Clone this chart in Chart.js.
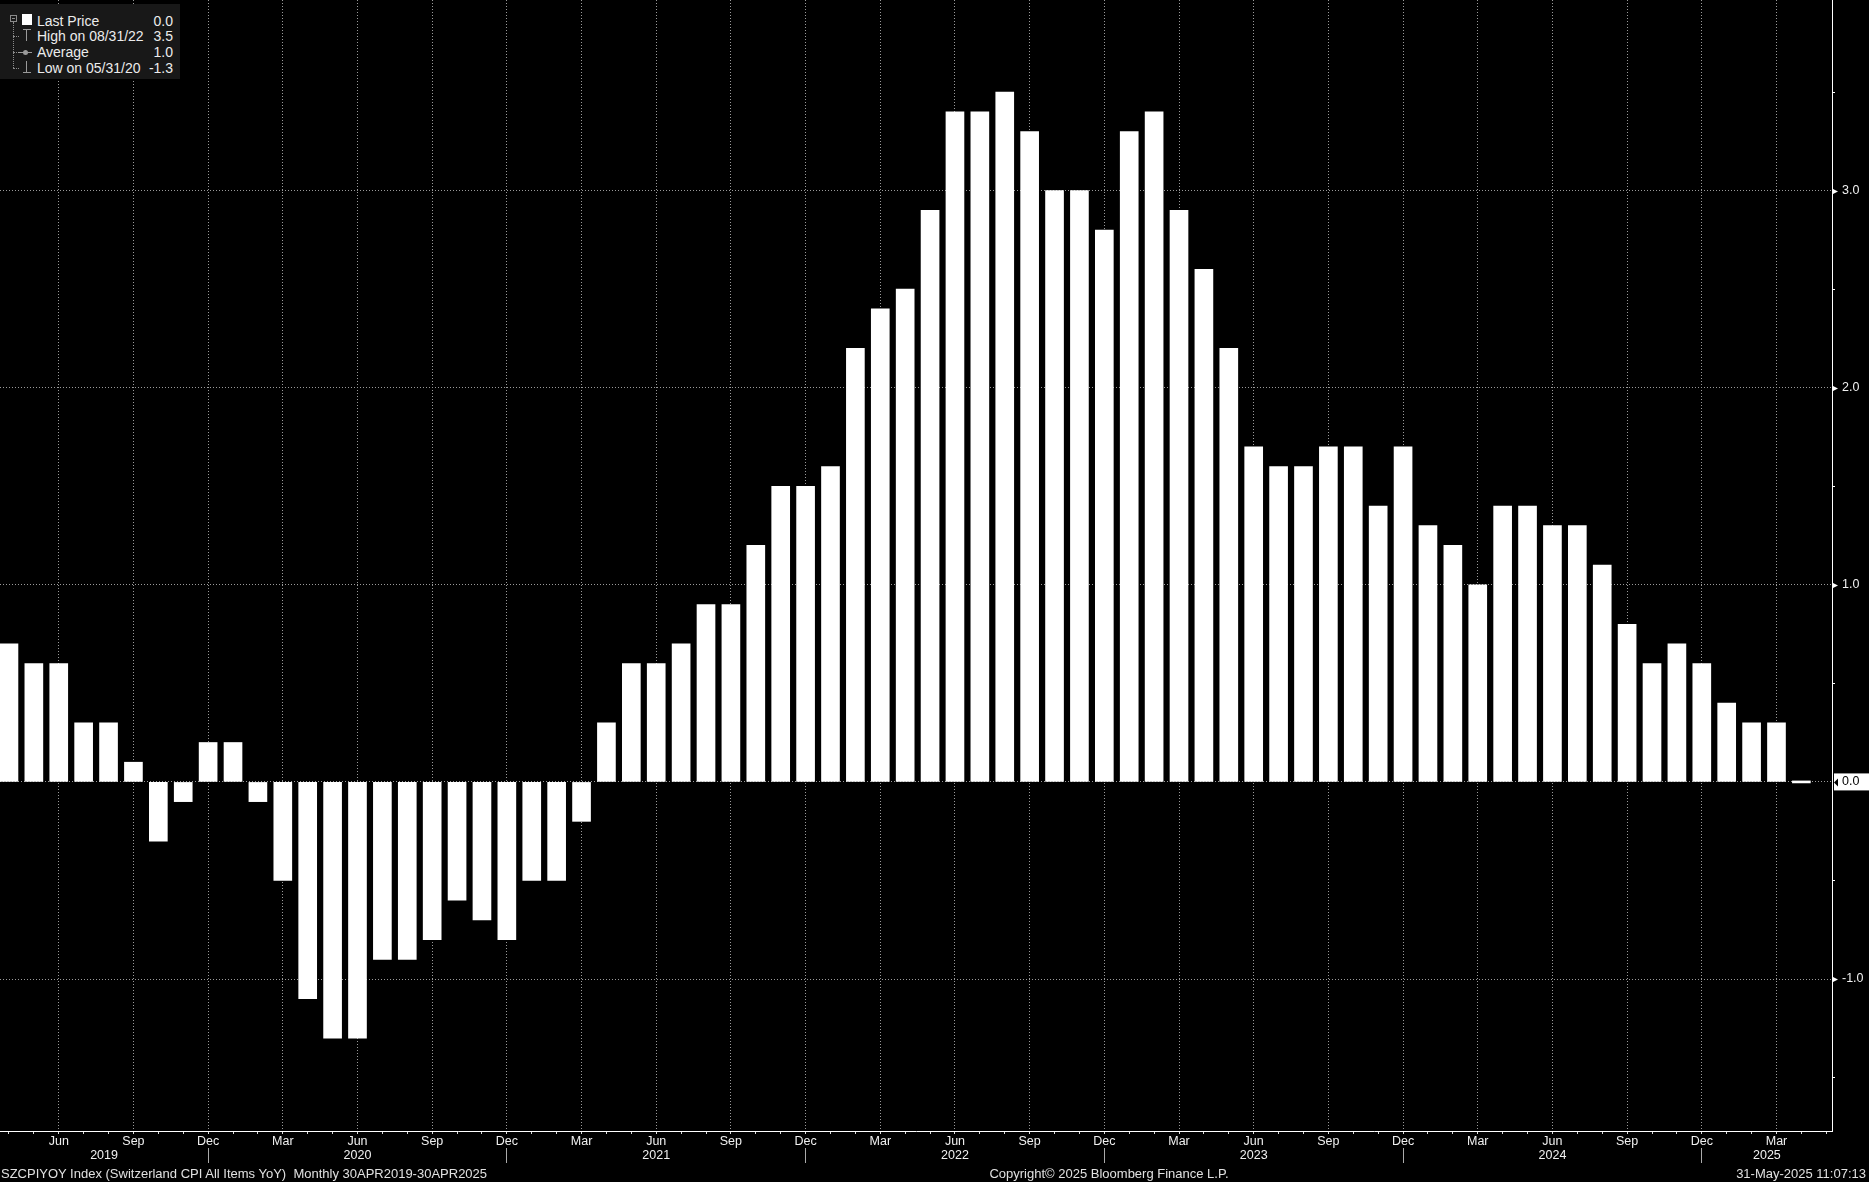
<!DOCTYPE html>
<html lang="en">
<head>
<meta charset="UTF-8">
<title>SZCPIYOY Index</title>
<style>
  * { box-sizing: border-box; margin: 0; padding: 0; }
  body {
    background: #000;
    width: 1869px;
    height: 1182px;
    overflow: hidden;
    font-family: 'Liberation Sans', Arial, sans-serif;
    color: #ececec;
  }
  .wrap { position: relative; width: 1869px; height: 1182px; }
  .chart-box { position: absolute; left: 0; top: 0; width: 1869px; height: 1182px; }
  #legend {
    position: absolute; left: 0; top: 4px;
    width: 180px; height: 75px;
    background: #181818;
    font-size: 14px; line-height: 16px;
  }
  #legend span { position: absolute; }
  .tree-box { left: 10px; top: 11px; width: 7px; height: 7px; border: 1px solid #8a8a8a; }
  .tree-box::after { content: ''; position: absolute; left: 1px; top: 2px; width: 3px; height: 1px; background: #8a8a8a; }
  .tree-line { left: 13px; top: 18px; height: 46px; border-left: 1px dotted #8a8a8a; }
  .stub { left: 13px; width: 6px; border-top: 1px dotted #8a8a8a; }
  .ic-last { left: 22px; top: 10px; width: 10px; height: 11px; background: #fff; }
  .grey { background: #9a9a9a; }
  .lg-name { left: 37px; white-space: pre; }
  .lg-val { right: 7px; text-align: right; }
  .footer { position: absolute; top: 1166px; font-size: 13px; line-height: 16px; white-space: pre; color: #e0e0e0; }
</style>
</head>
<body>
<div class="wrap">
  <div class="chart-box"><canvas id="cpiChart"></canvas></div>

  <div id="legend">
    <span class="tree-box"></span>
    <span class="tree-line"></span>
    <span class="stub" style="top:32px"></span>
    <span class="stub" style="top:48px"></span>
    <span class="stub" style="top:64px"></span>
    <span class="ic-last"></span>
    <span class="grey" style="left:23px;top:25px;width:8px;height:1px"></span>
    <span class="grey" style="left:26px;top:25px;width:1px;height:12px"></span>
    <span class="grey" style="left:18px;top:48px;width:14px;height:1px"></span>
    <span class="grey" style="left:23px;top:46px;width:5px;height:5px;border-radius:50%"></span>
    <span class="grey" style="left:26px;top:57px;width:1px;height:12px"></span>
    <span class="grey" style="left:23px;top:68px;width:8px;height:1px"></span>
    <span class="lg-name" style="top:9px">Last Price</span><span class="lg-val" id="vLast" style="top:9px"></span>
    <span class="lg-name" style="top:24px" id="nHigh"></span><span class="lg-val" id="vHigh" style="top:24px"></span>
    <span class="lg-name" style="top:40px">Average</span><span class="lg-val" id="vAvg" style="top:40px"></span>
    <span class="lg-name" style="top:56px" id="nLow"></span><span class="lg-val" id="vLow" style="top:56px"></span>
  </div>

  <div class="footer" style="left:1px">SZCPIYOY Index (Switzerland CPI All Items YoY)  Monthly 30APR2019-30APR2025</div>
  <div class="footer" style="left:1109px;transform:translateX(-50%)">Copyright© 2025 Bloomberg Finance L.P.</div>
  <div class="footer" style="right:3px">31-May-2025 11:07:13</div>
</div>

<script src="https://cdn.jsdelivr.net/npm/chart.js@4"></script>
<script>
  // monthly observations, month-end
  const months = [
    '2019-04','2019-05','2019-06','2019-07','2019-08','2019-09','2019-10','2019-11','2019-12',
    '2020-01','2020-02','2020-03','2020-04','2020-05','2020-06','2020-07','2020-08','2020-09','2020-10','2020-11','2020-12',
    '2021-01','2021-02','2021-03','2021-04','2021-05','2021-06','2021-07','2021-08','2021-09','2021-10','2021-11','2021-12',
    '2022-01','2022-02','2022-03','2022-04','2022-05','2022-06','2022-07','2022-08','2022-09','2022-10','2022-11','2022-12',
    '2023-01','2023-02','2023-03','2023-04','2023-05','2023-06','2023-07','2023-08','2023-09','2023-10','2023-11','2023-12',
    '2024-01','2024-02','2024-03','2024-04','2024-05','2024-06','2024-07','2024-08','2024-09','2024-10','2024-11','2024-12',
    '2025-01','2025-02','2025-03','2025-04'
  ];
  const cpiYoY = [
    0.7, 0.6, 0.6, 0.3, 0.3, 0.1, -0.3, -0.1, 0.2,
    0.2, -0.1, -0.5, -1.1, -1.3, -1.3, -0.9, -0.9, -0.8, -0.6, -0.7, -0.8,
    -0.5, -0.5, -0.2, 0.3, 0.6, 0.6, 0.7, 0.9, 0.9, 1.2, 1.5, 1.5,
    1.6, 2.2, 2.4, 2.5, 2.9, 3.4, 3.4, 3.5, 3.3, 3.0, 3.0, 2.8,
    3.3, 3.4, 2.9, 2.6, 2.2, 1.7, 1.6, 1.6, 1.7, 1.7, 1.4, 1.7,
    1.3, 1.2, 1.0, 1.4, 1.4, 1.3, 1.3, 1.1, 0.8, 0.6, 0.7, 0.6,
    0.4, 0.3, 0.3, 0.0
  ];
  const monthNames = ['Jan','Feb','Mar','Apr','May','Jun','Jul','Aug','Sep','Oct','Nov','Dec'];
  const quarterMonths = ['Mar','Jun','Sep','Dec'];
  const yearLabels = ['2019','2020','2021','2022','2023','2024','2025'];
  const yTickValues = [-1.5, -1.0, -0.5, 0.0, 0.5, 1.0, 1.5, 2.0, 2.5, 3.0, 3.5];

  const X_MIN = -0.36, X_MAX = 73.23;
  const Y_MIN = -1.771, Y_MAX = 3.967;
  const GRID = '#9a9a9a';
  const TEXT = '#f0f0f0';
  const FONT = "'Liberation Sans', Arial, sans-serif";

  const y0 = +months[0].slice(0, 4), m0 = +months[0].slice(5) - 1;
  const monthOf = i => monthNames[(m0 + i) % 12];
  // index of December of a given year (month-end), relative to first obs
  const decIdx = yr => (yr - y0) * 12 + (11 - m0);
  const yearCenters = yearLabels.map(yr => {
    const start = Math.max(decIdx(+yr - 1), X_MIN);
    const end = Math.min(decIdx(+yr), X_MAX);
    return (start + end) / 2;
  });
  const separators = yearLabels.slice(0, -1).map(yr => decIdx(+yr));
  const last = cpiYoY.at(-1);

  // legend values
  const hi = Math.max(...cpiYoY), lo = Math.min(...cpiYoY);
  const avg = cpiYoY.reduce((a, b) => a + b, 0) / cpiYoY.length;
  const monthEnd = ym => {
    const [y, m] = ym.split('-').map(Number);
    const d = new Date(y, m, 0).getDate();
    return `${String(m).padStart(2, '0')}/${d}/${String(y).slice(2)}`;
  };
  document.getElementById('vLast').textContent = last.toFixed(1);
  document.getElementById('vHigh').textContent = hi.toFixed(1);
  document.getElementById('vAvg').textContent = avg.toFixed(1);
  document.getElementById('vLow').textContent = lo.toFixed(1);
  document.getElementById('nHigh').textContent = 'High on ' + monthEnd(months[cpiYoY.indexOf(hi)]);
  document.getElementById('nLow').textContent = 'Low on ' + monthEnd(months[cpiYoY.indexOf(lo)]);

  Chart.defaults.font.family = FONT;
  Chart.defaults.font.size = 12.5;
  Chart.defaults.color = TEXT;

  // fixed axis sizes, no automatic label padding
  const fixSize = (w, h) => s => {
    if (w != null) s.width = w;
    if (h != null) s.height = h;
    s.paddingLeft = s.paddingRight = s.paddingTop = s.paddingBottom = 0;
  };

  // little triangles on the value axis + notch on the last price tag
  const axisMarks = {
    id: 'axisMarks',
    afterDraw(chart) {
      const { ctx, chartArea, scales: { y } } = chart;
      const r = chartArea.right;
      ctx.save();
      ctx.fillStyle = '#fff';
      yTickValues.filter(v => Number.isInteger(v) && v !== last).forEach(v => {
        const py = Math.round(y.getPixelForValue(v)) + 0.5;
        ctx.beginPath();
        ctx.moveTo(r, py - 3);
        ctx.lineTo(r + 6, py);
        ctx.lineTo(r, py + 3);
        ctx.closePath();
        ctx.fill();
      });
      const pl = Math.round(y.getPixelForValue(last)) + 0.5;
      ctx.fillStyle = '#000';
      ctx.beginPath();
      ctx.moveTo(r + 2, pl);
      ctx.lineTo(r + 6, pl - 4);
      ctx.lineTo(r + 6, pl + 4);
      ctx.closePath();
      ctx.fill();
      ctx.restore();
    }
  };

  new Chart(document.getElementById('cpiChart'), {
    type: 'bar',
    data: {
      datasets: [{
        label: 'Last Price',
        data: cpiYoY.map((v, i) => ({ x: i, y: v })),
        backgroundColor: '#ffffff',
        borderWidth: 0,
        barThickness: 18,
        minBarLength: 2,
        xAxisID: 'x',
        yAxisID: 'y'
      }]
    },
    options: {
      responsive: true,
      maintainAspectRatio: false,
      animation: false,
      events: [],
      layout: { autoPadding: false, padding: { left: 0, top: 0, right: 0, bottom: 17 } },
      plugins: { legend: { display: false }, tooltip: { enabled: false } },
      scales: {
        x: {
          type: 'linear', position: 'bottom', weight: 0, offset: false,
          min: X_MIN, max: X_MAX,
          afterBuildTicks: s => { s.ticks = months.map((m, i) => ({ value: i })).concat({ value: months.length }); },
          afterFit: fixSize(null, 17),
          ticks: {
            autoSkip: false, maxRotation: 0, padding: 0, color: TEXT,
            callback: v => quarterMonths.includes(monthOf(v)) ? monthOf(v) : ''
          },
          grid: {
            offset: false,
            color: c => c.tick && quarterMonths.includes(monthOf(c.tick.value)) ? GRID : 'transparent',
            lineWidth: 1, tickLength: 3, tickColor: '#dddddd', tickWidth: 1
          },
          border: { display: true, color: '#ffffff', width: 1, dash: [1, 2] }
        },
        x2: {
          type: 'linear', position: 'bottom', weight: 1, offset: false,
          min: X_MIN, max: X_MAX,
          afterBuildTicks: s => {
            s.ticks = yearCenters.concat(separators).sort((a, b) => a - b).map(v => ({ value: v }));
          },
          afterFit: fixSize(null, 17),
          ticks: {
            autoSkip: false, maxRotation: 0, padding: -15, color: TEXT,
            callback: v => {
              const k = yearCenters.indexOf(v);
              return k >= 0 ? yearLabels[k] : '';
            }
          },
          grid: {
            offset: false, drawOnChartArea: false, drawTicks: true, tickLength: 15, tickWidth: 1,
            tickColor: c => c.tick && separators.includes(c.tick.value) ? '#aaaaaa' : 'transparent'
          },
          border: { display: false }
        },
        y: {
          type: 'linear', position: 'right',
          min: Y_MIN, max: Y_MAX,
          afterBuildTicks: s => { s.ticks = yTickValues.map(v => ({ value: v })); },
          afterFit: fixSize(37, null),
          ticks: {
            padding: 7,
            callback: v => Number.isInteger(v) ? v.toFixed(1) : '',
            color: c => c.tick && c.tick.value === last ? '#000000' : TEXT,
            showLabelBackdrop: c => !!(c.tick && c.tick.value === last),
            backdropColor: '#ffffff',
            backdropPadding: { top: 1, bottom: 1, left: 8, right: 12 }
          },
          grid: {
            color: c => c.tick && Number.isInteger(c.tick.value) ? GRID : 'transparent',
            lineWidth: 1, tickLength: 3, tickWidth: 1,
            tickColor: c => c.tick && !Number.isInteger(c.tick.value) ? '#ffffff' : 'transparent'
          },
          border: { display: true, color: '#ffffff', width: 1, dash: [1, 2] }
        }
      }
    },
    plugins: [axisMarks]
  });
</script>
</body>
</html>
